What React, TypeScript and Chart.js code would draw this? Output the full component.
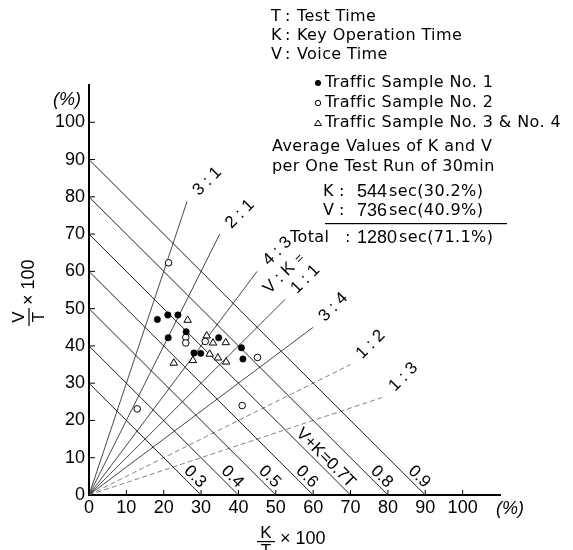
import React, { useEffect, useRef } from 'react';
import { Chart, registerables } from 'chart.js';
Chart.register(...registerables);

// Traffic sample data: K/T x100 (x) and V/T x100 (y)
const sample1K = [18.3, 21.1, 23.8, 21.2, 26.0, 28.1, 29.9, 34.7, 40.8, 41.2];
const sample1V = [47.1, 48.3, 48.3, 42.2, 43.8, 38.1, 38.0, 42.2, 39.5, 36.5];
const sample2K = [21.3, 25.9, 25.9, 31.1, 45.1, 12.9, 41.0];
const sample2V = [62.3, 42.3, 40.8, 41.2, 36.9, 23.1, 24.0];
const sample34K = [26.4, 31.5, 33.2, 36.6, 32.3, 34.5, 36.7, 27.8, 22.7];
const sample34V = [46.9, 42.7, 40.8, 40.9, 37.8, 36.8, 35.7, 36.1, 35.4];

// V + K = const lines (in % of T)
const sumLevels = [30, 40, 50, 60, 70, 80, 90];
const sumLabels = ['0.3', '0.4', '0.5', '0.6', 'V+K=0.7T', '0.8', '0.9'];

// V : K ratio lines
const ratioV = [3, 2, 4, 1, 3, 1, 1];
const ratioK = [1, 1, 3, 1, 4, 2, 3];
const ratioLabels = ['3 : 1', '2 : 1', '4 : 3', '1 : 1', '3 : 4', '1 : 2', '1 : 3'];
const ratioDashed = [false, false, false, false, false, true, true];
const ratioLineEnd = 105;

const axisTicks = [0, 10, 20, 30, 40, 50, 60, 70, 80, 90, 100];

const infoLines = ['T : Test Time', 'K : Key Operation Time', 'V : Voice Time'];
const legendLabels = ['Traffic Sample No. 1', 'Traffic Sample No. 2', 'Traffic Sample No. 3 & No. 4'];
const avgTitle = ['Average Values of K and V', 'per One Test Run of 30min'];
const avgNames = ['K', 'V', 'Total'];
const avgSeconds = ['544', '736', '1280'];
const avgPercents = ['sec(30.2%)', 'sec(40.9%)', 'sec(71.1%)'];

const TXT = '"DejaVu Sans", sans-serif';
const NUM = '"Liberation Sans", Arial, sans-serif';

export default function App() {
  const ref = useRef<HTMLCanvasElement | null>(null);
  useEffect(() => {
    document.body.style.margin = '0';
    const canvas = ref.current;
    if (!canvas) return;

    const datasets: any[] = [];
    datasets.push({
      label: 'No.1',
      data: sample1K.map((k, i) => ({ x: k, y: sample1V[i] })),
      pointStyle: 'circle', pointRadius: 3.2, backgroundColor: '#000', borderColor: '#000', borderWidth: 0.5,
      showLine: false,
    });
    datasets.push({
      label: 'No.2',
      data: sample2K.map((k, i) => ({ x: k, y: sample2V[i] })),
      pointStyle: 'circle', pointRadius: 3.3, backgroundColor: '#fff', borderColor: '#000', borderWidth: 1,
      showLine: false,
    });
    datasets.push({
      label: 'No.3&4',
      data: sample34K.map((k, i) => ({ x: k, y: sample34V[i] })),
      pointStyle: 'triangle', pointRadius: 4.3, backgroundColor: '#fff', borderColor: '#000', borderWidth: 1,
      showLine: false,
    });
    sumLevels.forEach((c) => {
      datasets.push({
        label: 'sum' + c,
        data: [{ x: 0, y: c }, { x: c, y: 0 }],
        showLine: true, pointRadius: 0, borderColor: '#222', borderWidth: 1, fill: false,
      });
    });
    ratioV.forEach((v, i) => {
      const k = ratioK[i];
      datasets.push({
        label: 'ratio' + i,
        data: [{ x: 0, y: 0 }, { x: (ratioLineEnd * k) / (v + k), y: (ratioLineEnd * v) / (v + k) }],
        showLine: true, pointRadius: 0,
        borderColor: ratioDashed[i] ? '#666' : '#333', borderWidth: ratioDashed[i] ? 0.8 : 0.9,
        borderDash: ratioDashed[i] ? [5, 3] : [],
        fill: false,
      });
    });

    const decor = {
      id: 'decor',
      afterDraw(chart: any) {
        const ctx = chart.ctx as any;
        const xs = chart.scales.x;
        const ys = chart.scales.y;
        const px = (v: number) => xs.getPixelForValue(v);
        const py = (v: number) => ys.getPixelForValue(v);
        ctx.save();
        ctx.fillStyle = '#000';
        ctx.strokeStyle = '#000';

        // inward tick marks
        ctx.lineWidth = 1;
        axisTicks.forEach((t) => {
          if (t === 0) return;
          ctx.beginPath();
          ctx.moveTo(px(t), py(0));
          ctx.lineTo(px(t), py(0) - 5);
          ctx.stroke();
          ctx.beginPath();
          ctx.moveTo(px(0), py(t));
          ctx.lineTo(px(0) + 6, py(t));
          ctx.stroke();
        });

        // sum line labels
        ctx.font = '17px ' + NUM;
        ctx.textAlign = 'right';
        ctx.textBaseline = 'middle';
        sumLevels.forEach((c, i) => {
          const bx = px(c), by = py(0);
          const a = 8.6, b = 5.5;
          const ex = bx + a * 0.7071 - b * 0.7071;
          const ey = by - a * 0.7071 - b * 0.7071;
          ctx.save();
          ctx.translate(ex, ey);
          ctx.rotate(Math.PI / 4);
          ctx.fillText(sumLabels[i], 0, 0);
          ctx.restore();
        });

        // ratio labels
        ctx.textAlign = 'center';
        ratioV.forEach((v, i) => {
          const k = ratioK[i];
          const ex = px((ratioLineEnd * k) / (v + k) + 5.4);
          const ey = py((ratioLineEnd * v) / (v + k) + 5.4);
          ctx.save();
          ctx.translate(ex, ey);
          ctx.rotate(-Math.PI / 4);
          ctx.fillText(ratioLabels[i], 0, 0);
          ctx.restore();
        });
        // "V : K =" shared prefix
        ctx.save();
        ctx.translate(px(50.9), py(58.2));
        ctx.rotate(-Math.PI / 4);
        ctx.fillText('V : K', 0, 0);
        ctx.restore();
        ctx.save();
        ctx.translate(px(56.4), py(63.4));
        ctx.rotate(-Math.PI / 4);
        ctx.font = '13px ' + NUM;
        ctx.fillText('=', 0, 0);
        ctx.restore();

        // axis units
        ctx.font = 'italic 18px ' + NUM;
        ctx.textAlign = 'center';
        ctx.fillText('(%)', 67, 100);
        ctx.fillText('(%)', 510, 509);

        // x axis title K/T x 100
        ctx.font = '17px ' + NUM;
        ctx.fillText('K', 266, 533);
        ctx.fillRect(257, 541, 18, 1.2);
        ctx.fillText('T', 266, 551);
        ctx.textAlign = 'left';
        ctx.font = '18px ' + NUM;
        ctx.fillText('\u00d7 100', 280, 539);

        // y axis title V/T x 100
        ctx.save();
        ctx.translate(29, 317);
        ctx.rotate(-Math.PI / 2);
        ctx.font = '17px ' + NUM;
        ctx.textAlign = 'center';
        ctx.fillText('V', 0, -10);
        ctx.fillRect(-9, -0.6, 18, 1.2);
        ctx.fillText('T', 0, 10);
        ctx.textAlign = 'left';
        ctx.font = '18px ' + NUM;
        ctx.fillText('\u00d7 100', 12, 0);
        ctx.restore();

        // info block
        ctx.font = '16px ' + TXT;
        ctx.letterSpacing = '0.4px';
        ctx.textAlign = 'left';
        ctx.textBaseline = 'middle';
        const infoY = [17, 36, 55];
        infoLines.forEach((s, i) => {
          const parts = s.split(' : ');
          ctx.fillText(parts[0], 271, infoY[i]);
          ctx.fillText(':', 285, infoY[i]);
          ctx.fillText(parts[1], 297, infoY[i]);
        });

        // legend
        const legY = [83, 103, 123];
        legendLabels.forEach((s, i) => {
          ctx.fillText(s, 325, legY[i]);
        });
        ctx.beginPath();
        ctx.arc(318, legY[0], 3, 0, Math.PI * 2);
        ctx.fill();
        ctx.beginPath();
        ctx.arc(318, legY[1], 2.7, 0, Math.PI * 2);
        ctx.lineWidth = 1;
        ctx.stroke();
        ctx.beginPath();
        ctx.moveTo(318, legY[2] - 3);
        ctx.lineTo(321.5, legY[2] + 2.5);
        ctx.lineTo(314.5, legY[2] + 2.5);
        ctx.closePath();
        ctx.stroke();

        // averages
        ctx.fillText(avgTitle[0], 272, 147);
        ctx.fillText(avgTitle[1], 272, 167);
        const avgY = [192, 211, 238];
        avgNames.forEach((n, i) => {
          ctx.font = '16px ' + TXT;
          ctx.letterSpacing = '0.4px';
          ctx.textAlign = 'left';
          if (n === 'Total') {
            ctx.fillText(n, 290, avgY[i]);
            ctx.fillText(':', 345, avgY[i]);
          } else {
            ctx.fillText(n, 323, avgY[i]);
            ctx.fillText(':', 339, avgY[i]);
          }
          ctx.font = '18px ' + NUM;
          ctx.letterSpacing = '0px';
          const nx = 357;
          ctx.fillText(avgSeconds[i], nx, avgY[i]);
          const w = ctx.measureText(avgSeconds[i]).width;
          ctx.font = '16px ' + TXT;
          ctx.letterSpacing = '0.4px';
          ctx.fillText(avgPercents[i], nx + w + 2, avgY[i]);
        });
        ctx.fillRect(325, 223, 182, 1.2);
        ctx.restore();
      },
    };

    const chart = new Chart(canvas, {
      type: 'scatter',
      data: { datasets },
      options: {
        animation: false,
        responsive: false,
        layout: { padding: { left: 0, top: 85, right: 73, bottom: 0 } },
        plugins: { legend: { display: false }, tooltip: { enabled: false } },
        scales: {
          x: {
            type: 'linear', min: 0, max: 110,
            ticks: {
              stepSize: 10, autoSkip: false, maxRotation: 0, padding: 2, color: '#000',
              font: { family: NUM, size: 18 },
              callback: (v: any) => (v <= 100 ? String(v) : ''),
            },
            grid: { display: false, drawTicks: false },
            border: { display: true, color: '#000', width: 2 },
            afterFit: (s: any) => { s.height = 55; },
          },
          y: {
            type: 'linear', min: 0, max: 110,
            ticks: {
              stepSize: 10, autoSkip: false, padding: 4, color: '#000',
              font: { family: NUM, size: 18 },
              callback: (v: any) => (v <= 100 ? String(v) : ''),
            },
            grid: { display: false, drawTicks: false },
            border: { display: true, color: '#000', width: 2 },
            afterFit: (s: any) => { s.width = 89; },
          },
        },
      },
      plugins: [decor],
    });
    return () => chart.destroy();
  }, []);

  return (
    <div style={{ width: 573, height: 550, background: '#fff' }}>
      <canvas ref={ref} width={573} height={550} />
    </div>
  );
}
